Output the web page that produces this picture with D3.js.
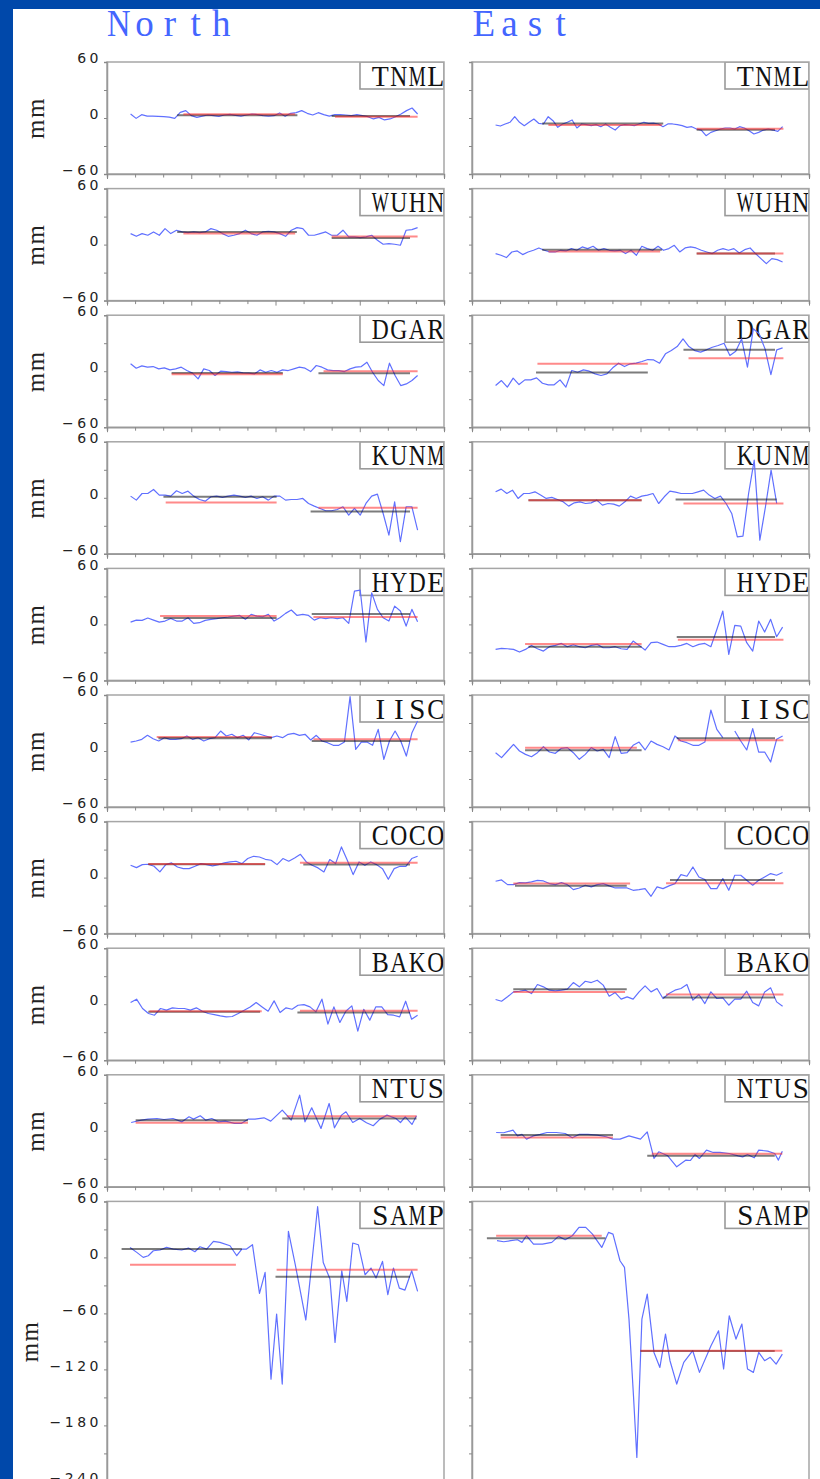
<!DOCTYPE html>
<html>
<head>
<meta charset="utf-8">
<script src="https://cdn.jsdelivr.net/npm/d3@7"></script>
<style>
  body { margin: 0; background: #0048aa; }
  svg { display: block; }
</style>
</head>
<body>
<script>
// stations top to bottom, components left to right
const stations = ["TNML", "WUHN", "DGAR", "KUNM", "HYDE", "IISC", "COCO", "BAKO", "NTUS", "SAMP"];
const components = ["North", "East"];

// y ranges (mm)
const yDomainSmall = [-60, 60];
const yDomainLast = [-240, 60];
const xDomain = [0, 12];

// evenly sampled series run over this span (x in tick units)
const sampleSpan = [0.84, 11.06];
const kunmESpan = [0.84, 10.85];

// ---- residual series (mm) ----
const TNML_N = [4.3,-0.4,3.6,2,2,1.8,1.4,1,-0.4,6,7.9,2.5,0.7,2,3.2,2.5,1.8,3.2,3.9,2.9,2,3.2,4.3,3.6,2.5,2,2.5,5.4,1.8,5,5.7,7.9,5,3.2,5.7,3.6,2,3.6,3.6,3.2,2.5,3.6,2.5,1.4,-1,0.7,-2.1,-1,1.4,4.3,7.9,10.7,4.3];
const TNML_E = [-7.5,-8.6,-6.4,-4.6,1.4,-4.6,-8.2,-4.6,-1.1,-5.7,-6.4,1.4,-2.9,-10,-6.4,-4.6,-2.1,-10.7,-6.4,-7.1,-8.2,-7.1,-9.3,-6.4,-10,-12.9,-8.2,-7.1,-7.5,-8.2,-6.4,-4.6,-5.7,-5.4,-6.4,-9.3,-6.4,-6.4,-7.1,-8.2,-10,-9.3,-11.8,-12.9,-18.9,-15.4,-13.6,-11.8,-10.7,-10.7,-11.8,-9.3,-10.7,-13.6,-17.1,-15.4,-12.9,-11.8,-12.9,-14.3,-9.3];
const WUHN_N = [11.8,8.9,11.8,10,13.6,10,17.1,11.8,15.4,13.6,12.9,13.6,12.9,13.6,17.1,15.4,11.8,8.9,10,11.8,15.4,11.8,10,13.6,14.3,13.6,11.8,8.9,15.4,18.2,17.1,10,10,11.8,13.6,10,10,15.4,8.2,8.2,7.5,8.2,10,4.6,0.4,1.1,0.4,-0.7,15.4,16.1,18.2];
const WUHN_E = [-9.6,-11.4,-13.9,-7.9,-6.8,-10.7,-7.9,-6.1,-3.6,-6.1,-7.9,-7.9,-6.1,-6.8,-4.3,-6.1,-2.5,-4.3,-1.8,-6.1,-4.3,-6.1,-6.8,-6.1,-9.6,-6.1,-11.4,-1.8,-4.3,-6.1,-1.8,-6.1,-4.3,-0.7,-7.9,-3.6,-2.5,-3.6,-6.1,-7.9,-9.6,-6.1,-4.3,-6.1,-4.3,-8.9,-5.4,-3.6,-9.6,-15,-20.4,-15,-16.1,-18.6];
const DGAR_N = [7.9,3.2,5.7,4.3,5,2.5,3.6,1.4,2.5,4.3,0.7,-2.1,-8.2,2.5,0.7,-4.6,0,-0.4,-1.1,-0.7,-1.8,-2.1,-2.9,1.4,-1.1,0.7,-1.1,1.4,0.7,2.5,4.3,3.2,-0.4,6.1,4.3,1.4,0.7,0.7,-0.4,2.5,4.3,5,9.6,-1.1,-10,-15.4,8.6,-4.6,-15.4,-13.6,-10,-4.6];
const DGAR_E = [-15.4,-10,-17.1,-7.5,-14.3,-9.3,-9.3,-7.1,-12.9,-14.6,-14.6,-9.3,-17.1,0.7,-1.1,1.4,0,-2.9,-4.6,-2.9,3.6,8.6,5,7.9,8.6,10.4,12.5,12.1,8.6,18.6,22.1,26.4,34.6,26.4,22.1,20.4,22.9,25.7,27.5,30,16.8,21.4,34.6,4.3,45.4,40,23.9,-3.6,22.9,25];
const KUNM_N = [1.8,-2.5,4.6,4.6,8.9,2.9,2.9,1.8,7.5,4.6,7.1,1.8,-1.8,-3.6,1.1,1.8,0.4,1.8,2.9,1.8,0.4,1.8,-0.7,1.1,-2.5,1.8,1.8,-2.5,-1.8,-1.8,-0.7,-6.1,-8.9,-11.4,-13.9,-13.9,-12.5,-9.6,-18.6,-11.4,-18.6,-6.1,1.8,3.9,-16.8,-40,-4.3,-47.1,-9.6,-9.6,-34.6];
const KUNM_E = [6.4,9.3,4.6,8.2,-0.7,4.6,4.6,6.4,2.9,-0.7,0.4,-1.8,-4.3,-8.9,-5.4,-4.3,-6.1,-5.4,-2.5,-7.9,-6.1,-6.8,-8.9,-4.3,1.8,-0.7,1.8,2.9,4.6,-6.1,1.1,7.1,6.1,4.6,4.6,4.6,6.4,8.2,2.9,-0.7,1.8,-6.1,-16.8,-41.8,-41.1,4.6,40.4,-45.4,-9.6,29.6,-6.1];
const HYDE_N = [2.5,4.6,4.3,6.8,4.6,2.5,3.6,6.4,3.6,3.6,7.1,1.1,1.8,4.3,5.4,6.1,7.1,7.9,8.9,9.6,5.4,10.7,8.9,8.2,10.7,3.6,7.1,11.8,15.4,9.6,10.7,9.6,4.6,7.1,6.1,7.1,6.1,7.1,1.1,35.7,36.8,-18.9,33.9,16.1,7.1,3.6,19.6,14.3,-1.8,16.1,2.9];
const HYDE_E = [-26.8,-25.7,-26.1,-26.8,-29.6,-26.8,-22.5,-26.1,-28.6,-23.9,-22.5,-20.4,-23.9,-21.8,-23.9,-25,-22.5,-21.4,-25,-25,-23.9,-26.1,-26.8,-17.9,-22.5,-27.5,-19.6,-18.9,-21.4,-23.9,-23.9,-22.5,-20.4,-23.9,-21.4,-20.4,-23.9,-5.4,14.3,-32.1,-1.1,-1.8,-19.6,-28.6,3.6,-8.2,5.4,-13.2,-2.9];
const IISC_N = [9.6,10.7,12.5,16.8,13.2,10.7,14.3,12.5,12.5,13.2,16.1,12.5,14.3,10.7,13.2,14.3,21.4,16.1,17.9,14.3,16.8,11.8,19.6,17.9,16.1,14.3,16.1,14.3,17.9,18.9,16.8,17.9,11.8,16.8,10.7,8.9,6.1,6.1,9.6,58.2,1.8,9.6,9.6,6.1,23.2,-8.9,10.7,21.4,10.7,-5.4,19.6,32.1];
const IISC_E = [-1.8,-7.1,0,7.1,0,-3.6,-6.1,-1.8,4.6,-1.1,-2.5,2.9,3.6,-1.8,-8.9,-3.6,3.6,0,1.8,-7.1,15.4,-2.5,-1.8,6.1,9.6,1.1,10.7,7.1,4.6,1.1,16.1,10.7,8.9,6.1,6.1,9.6,43.9,23.2,14.3,null,21.4,10.7,1.1,23.9,-1.1,-1.1,-11.8,12.5,16.1];
const COCO_N = [13.2,10.7,13.9,14.3,12.1,6.1,13.9,15.7,11.4,9.6,9.6,12.1,15,13.9,12.5,13.9,15.7,16.8,17.5,15,20.4,22.9,22.1,19.6,18.6,13.9,20.4,17.5,21.1,25,16.8,13.2,10.4,6.1,19.3,15,32.9,18.6,3.2,16.8,13.2,16.8,13.9,9.6,-1.8,9.6,12.1,12.1,20.4,22.9];
const COCO_E = [-3.9,-2.5,-7.5,-7.5,-5.4,-5.7,-4.6,-2.9,-3.6,-6.4,-7.5,-5.4,-7.5,-12.9,-11.1,-8.2,-10,-7.5,-6.4,-8.9,-11.1,-11.1,-11.1,-13.6,-12.9,-11.8,-20,-10,-11.8,-8.9,-6.4,3.2,1.4,11.4,0.7,-2.1,-11.8,-11.8,-1.1,-13.6,2.5,2.5,-2.9,-8.2,-2.9,0.7,4.3,2.5,5.4];
const BAKO_N = [1.8,5.4,-4.6,-10,-11.8,-4.6,-6.4,-3.9,-4.6,-4.6,-6.4,-3.9,-7.5,-10,-11.1,-12.5,-13.6,-13.2,-10,-6.4,-2.9,1.8,-2.9,-7.5,3.6,-8.9,-3.9,-5.4,-1.1,-0.4,-2.9,-8.2,5.4,-21.4,-2.9,-19.6,-7.5,-1.8,-28.9,-5.4,-17.1,-2.9,-2.9,-11.1,-11.8,-13.6,3.2,-16.1,-11.8];
const BAKO_E = [5,3.2,7.9,13.2,13.9,15,11.4,21.1,18.6,15,14.3,15,16.1,23.2,18.6,24.6,23.2,25.7,20.4,8.6,12.5,5.4,7.9,5.4,13.2,19.6,13.2,16.8,6.1,11.4,15,16.8,21.1,4.3,10.4,0.7,13.2,6.1,6.8,-1.1,5.4,5.4,13.9,1.8,-1.8,13.2,17.5,2.5,-2.1];
// irregularly read series: [x (tick units), mm]
const NTUS_N = [[0.86,8.9],[1.22,11.4],[1.46,12.5],[1.78,13.2],[2.03,12.1],[2.35,13.2],[2.67,9.6],[2.92,15],[3.08,12.5],[3.32,16.1],[3.52,11.4],[3.73,13.2],[3.97,9.6],[4.21,10.4],[4.54,7.9],[4.78,7.9],[5.02,12.5],[5.27,12.5],[5.59,13.9],[5.83,10.4],[6.24,22.1],[6.56,11.4],[6.86,38.2],[7.05,9.6],[7.29,24.6],[7.62,2.5],[7.91,29.3],[8.10,3.2],[8.35,16.8],[8.51,20.4],[8.75,8.9],[9.00,13.2],[9.24,8.6],[9.48,5.4],[9.72,12.5],[9.97,16.8],[10.29,13.2],[10.45,8.9],[10.62,15],[10.86,6.8],[11.02,16.1]];
const NTUS_E = [[0.86,-1.8],[1.13,-2.1],[1.46,0.7],[1.62,-5.4],[1.78,-3.9],[1.94,-8.9],[2.19,-5.4],[2.43,-3.9],[2.67,-1.8],[3.00,-1.8],[3.32,-2.9],[3.57,-7.5],[3.81,-3.9],[4.13,-3.9],[4.46,-4.6],[4.78,-6.4],[5.02,-8.9],[5.27,-8.9],[5.59,-5.4],[6.00,-8.9],[6.24,-1.1],[6.48,-29.6],[6.65,-22.5],[6.97,-26.8],[7.29,-38.6],[7.62,-31.4],[7.78,-31.8],[7.94,-25.4],[8.10,-29.6],[8.35,-20.7],[8.59,-23.2],[8.83,-23.2],[9.16,-24.3],[9.48,-26.8],[9.64,-27.9],[9.81,-25.4],[10.05,-28.9],[10.21,-20.7],[10.53,-21.8],[10.78,-24.3],[10.91,-31.4],[11.05,-21.8]];
const SAMP_N = [[0.82,10.7],[1.06,5.4],[1.29,0],[1.47,1.8],[1.65,7.1],[1.89,7.9],[2.12,10.7],[2.36,8.9],[2.66,7.9],[2.90,10],[3.13,6.1],[3.31,11.4],[3.55,8.9],[3.79,17.1],[4.02,16.1],[4.38,12.5],[4.62,1.8],[4.80,8.9],[4.97,8.9],[5.18,13.6],[5.43,-38.6],[5.63,-16.1],[5.84,-130.4],[6.04,-60.7],[6.24,-135.7],[6.46,27.9],[6.70,-7.1],[7.08,-67.1],[7.29,-7.1],[7.50,54.3],[7.70,-5.4],[7.94,-23.2],[8.12,-91.1],[8.36,-14.3],[8.54,-47.1],[8.75,15.4],[8.95,13.6],[9.19,-18.6],[9.40,-11.4],[9.58,-22.1],[9.81,-4.3],[10.0,-40],[10.20,-11.4],[10.41,-32.9],[10.61,-35],[10.85,-14.3],[11.06,-36.4]];
const SAMP_E = [[0.89,17.9],[1.13,16.8],[1.38,17.9],[1.62,18.9],[1.78,16.1],[1.94,23.2],[2.19,14.3],[2.51,14.3],[2.84,16.1],[3.08,22.5],[3.32,18.9],[3.57,23.2],[3.81,32.1],[4.05,32.1],[4.29,25],[4.62,10.7],[4.86,26.8],[5.02,25],[5.27,-3.6],[5.43,-10.7],[5.59,-66.1],[5.75,-148.2],[5.87,-214.3],[6.05,-66.1],[6.24,-39.3],[6.48,-101.8],[6.69,-117.9],[6.89,-82.1],[7.05,-110.7],[7.29,-135.7],[7.54,-112.5],[7.86,-100],[8.10,-123.2],[8.51,-94.6],[8.78,-78.6],[8.96,-119.6],[9.16,-62.5],[9.40,-87.5],[9.61,-71.4],[9.81,-119.6],[10.02,-123.2],[10.21,-101.8],[10.42,-110.7],[10.62,-107.1],[10.83,-114.3],[11.05,-103.6]];

// ---- interval means: [from, to, mm, kind]  kind 0 = black, 1 = red ----
const TNML_N_means = [[2.50,6.78,2.9,0],[2.72,6.70,3.9,1],[8.0,10.79,2.1,0],[8.12,11.06,1.4,1]];
const TNML_E_means = [[2.50,6.81,-6,0],[2.72,6.76,-7.5,1],[8.0,10.79,-12.5,0],[8.0,11.09,-11.4,1]];
const WUHN_N_means = [[2.50,6.76,13.6,0],[2.72,6.70,11.8,1],[8.0,10.79,7.1,0],[8.0,11.06,8.6,1]];
const WUHN_E_means = [[2.50,6.76,-5.4,0],[2.72,6.70,-7.5,1],[8.0,10.79,-9.6,0],[8.0,11.09,-9.6,1]];
const DGAR_N_means = [[2.30,6.26,-1.8,0],[2.30,6.26,-3.2,1],[7.53,10.79,-2.1,0],[7.71,11.06,0,1]];
const DGAR_E_means = [[2.28,6.26,-1.4,0],[2.33,6.26,7.9,1],[7.53,10.79,22.9,0],[7.71,11.09,13.9,1]];
const KUNM_N_means = [[2.01,6.04,1.1,0],[2.09,6.04,-5,1],[7.25,10.79,-14.6,0],[7.53,11.06,-10.7,1]];
const KUNM_E_means = [[2.01,6.04,-2.5,0],[2.01,6.04,-2.5,1],[7.25,10.85,-1.8,0],[7.53,11.09,-6,1]];
const HYDE_N_means = [[1.89,6.04,8.9,1],[2.01,6.04,6.8,0],[7.29,10.79,11.1,0],[7.35,11.06,7.9,1]];
const HYDE_E_means = [[1.89,6.04,-21,1],[2.01,6.04,-24,0],[7.29,10.79,-13.6,0],[7.33,11.09,-16.4,1]];
const IISC_N_means = [[1.77,5.87,15,1],[1.83,5.87,13.6,0],[7.29,10.79,10.7,0],[7.35,11.06,12.5,1]];
const IISC_E_means = [[1.89,5.87,3.6,1],[1.89,6.04,0.7,0],[7.29,10.79,13.6,0],[7.33,11.09,11.4,1]];
const COCO_N_means = [[1.47,5.63,14.3,0],[1.47,5.63,14.6,1],[6.99,10.79,14,0],[6.87,11.06,16,1]];
const COCO_E_means = [[1.47,5.63,-6.4,1],[1.53,5.51,-8.6,0],[7.05,10.79,-2.5,0],[6.91,11.09,-6,1]];
const BAKO_N_means = [[1.47,5.45,-8.2,0],[1.51,5.51,-7.5,1],[6.78,10.79,-8.9,0],[6.87,11.06,-7.1,1]];
const BAKO_E_means = [[1.47,5.51,16.1,0],[1.47,5.45,13.2,1],[6.81,10.79,7.1,0],[6.91,11.09,10.4,1]];
const NTUS_N_means = [[1.02,5.02,11.4,0],[1.02,5.02,8.6,1],[6.24,11.02,13.2,0],[6.40,11.02,15.7,1]];
const NTUS_E_means = [[1.02,5.02,-4.6,0],[1.02,5.02,-7.1,1],[6.24,10.78,-26.8,0],[6.40,11.05,-24.6,1]];
const SAMP_N_means = [[0.52,4.80,8.9,0],[0.82,4.59,-7.9,1],[6.0,10.79,-20.7,0],[6.04,11.06,-13.2,1]];
const SAMP_E_means = [[0.53,4.75,20.4,0],[0.86,4.62,23.2,1],[6.0,10.78,-100.4,0],[6.0,11.05,-100,1]];

const northSeries = [TNML_N, WUHN_N, DGAR_N, KUNM_N, HYDE_N, IISC_N, COCO_N, BAKO_N, NTUS_N, SAMP_N];
const eastSeries = [TNML_E, WUHN_E, DGAR_E, KUNM_E, HYDE_E, IISC_E, COCO_E, BAKO_E, NTUS_E, SAMP_E];
const northMeans = [TNML_N_means, WUHN_N_means, DGAR_N_means, KUNM_N_means, HYDE_N_means, IISC_N_means, COCO_N_means, BAKO_N_means, NTUS_N_means, SAMP_N_means];
const eastMeans = [TNML_E_means, WUHN_E_means, DGAR_E_means, KUNM_E_means, HYDE_E_means, IISC_E_means, COCO_E_means, BAKO_E_means, NTUS_E_means, SAMP_E_means];

const W = 820, H = 1479;
const colLeft = [107, 472];
const plotW = 337;
const rowTop = 62, rowStep = 126.6;
const meanColor = ["#111", "#ff2a2a"];

function toPoints(vals, span) {
  if (Array.isArray(vals[0])) return vals;
  const n = vals.length;
  return vals.map((v, i) => [span[0] + (span[1] - span[0]) * i / (n - 1), v]);
}

// serif letters set in fixed cells, so the word reads like a typewriter face
function monoText(parent, str, x, y, cell, size, fill) {
  const g = parent.append("g");
  str.split("").forEach((ch, i) => {
    const cx = x + (i + 0.5) * cell;
    const t = g.append("text")
      .attr("text-anchor", "middle")
      .attr("font-family", "Liberation Serif, serif")
      .attr("font-size", size)
      .attr("fill", fill)
      .text(ch);
    const w = t.node().getComputedTextLength();
    const k = w > cell * 0.92 ? cell * 0.92 / w : 1;
    t.attr("transform", "translate(" + cx + "," + y + ") scale(" + k + ",1)");
  });
  return g;
}

const svg = d3.select("body").append("svg").attr("width", W).attr("height", H);
svg.append("rect").attr("width", W).attr("height", H).attr("fill", "#0048aa");
svg.append("rect").attr("x", 13).attr("y", 9).attr("width", W - 13).attr("height", H - 9).attr("fill", "#fff");

components.forEach((c, i) => {
  monoText(svg, c, colLeft[i] - 1, 36, 25.6, 37, "#4466ff");
});

function drawPanel(col, row) {
  const station = stations[row];
  const last = row === stations.length - 1;
  const vals = col === 0 ? northSeries[row] : eastSeries[row];
  const means = col === 0 ? northMeans[row] : eastMeans[row];
  const span = (col === 1 && station === "KUNM") ? kunmESpan : sampleSpan;
  const pts = toPoints(vals, span);

  const x0 = colLeft[col];
  const top = rowTop + row * rowStep;
  const dom = last ? yDomainLast : yDomainSmall;
  const h = (dom[1] - dom[0]) * 112 / 120;

  const x = d3.scaleLinear().domain(xDomain).range([x0, x0 + plotW]);
  const y = d3.scaleLinear().domain(dom).range([top + h, top]);

  const g = svg.append("g");
  const clipId = "clip-" + col + "-" + row;
  g.append("clipPath").attr("id", clipId)
    .append("rect").attr("x", x0).attr("y", top).attr("width", plotW).attr("height", h);

  // label box
  const inner = g.append("g").attr("clip-path", "url(#" + clipId + ")");
  inner.append("rect")
    .attr("x", x0 + 253).attr("y", top)
    .attr("width", plotW - 253).attr("height", 27)
    .attr("fill", "#fff").attr("stroke", "#9a9a9a").attr("stroke-width", 1.6);
  monoText(inner, station, x0 + 264, top + 23.5, 18.5, 29, "#111");

  const line = d3.line()
    .defined(d => d[1] != null)
    .x(d => x(d[0]))
    .y(d => y(d[1]));

  inner.append("path")
    .datum(pts)
    .attr("d", line)
    .attr("fill", "none")
    .attr("stroke", "#6070ff")
    .attr("stroke-width", 1.2)
    .attr("stroke-linejoin", "round");

  inner.selectAll(".mean")
    .data(means)
    .enter()
    .append("line")
      .attr("x1", d => x(d[0]))
      .attr("x2", d => x(d[1]))
      .attr("y1", d => y(d[2]))
      .attr("y2", d => y(d[2]))
      .attr("stroke", d => meanColor[d[3]])
      .attr("stroke-opacity", 0.55)
      .attr("stroke-width", 2);

  // frame
  g.append("rect")
    .attr("x", x0).attr("y", top).attr("width", plotW).attr("height", h)
    .attr("fill", "none").attr("stroke", "#a6a6a6").attr("stroke-width", 1.5);

  // y axis
  const yTicks = d3.range(dom[1], dom[0] - 1, -30);
  const yAxis = d3.axisLeft(y)
    .tickValues(yTicks)
    .tickSize(3)
    .tickPadding(2)
    .tickFormat(d => (col === 0 && d % 60 === 0) ? d3.format("d")(d) : "");
  const ya = g.append("g").attr("transform", "translate(" + x0 + ",0)").call(yAxis);
  ya.select(".domain").attr("stroke", "#999").attr("stroke-width", 1.5);
  ya.selectAll(".tick line").attr("stroke", "#888");
  ya.selectAll(".tick text")
    .attr("dy", "0.05em")
    .attr("font-family", "DejaVu Sans, sans-serif")
    .attr("font-size", 14)
    .attr("letter-spacing", 3.5)
    .attr("fill", "#222");

  // x axis
  const xAxis = d3.axisBottom(x)
    .tickValues(d3.range(xDomain[0], xDomain[1] + 1))
    .tickSize(3.5)
    .tickFormat("");
  const xa = g.append("g").attr("transform", "translate(0," + (top + h) + ")").call(xAxis);
  xa.select(".domain").attr("stroke", "#999").attr("stroke-width", 1.5);
  xa.selectAll(".tick line")
    .attr("stroke", "#888")
    .attr("y2", d => d % 3 === 0 ? 5 : 3.5);

  if (col === 0) {
    g.append("text")
      .attr("transform", "translate(" + (last ? 38 : 44) + "," + (top + h / 2) + ") rotate(-90)")
      .attr("text-anchor", "middle")
      .attr("font-family", "Liberation Serif, serif")
      .attr("font-size", 25)
      .attr("letter-spacing", 1.5)
      .attr("fill", "#222")
      .text("mm");
  }
}

for (let r = 0; r < stations.length; r++) {
  drawPanel(0, r);
  drawPanel(1, r);
}
</script>
</body>
</html>
